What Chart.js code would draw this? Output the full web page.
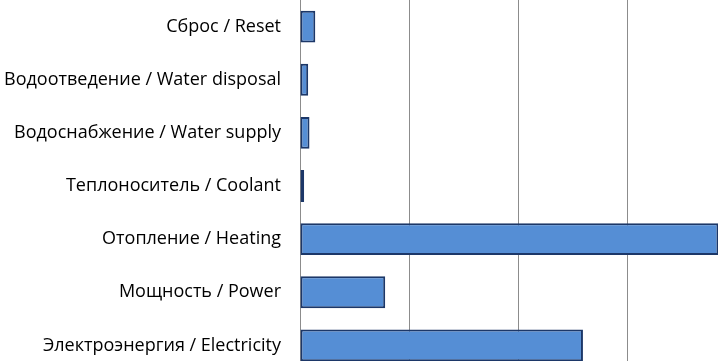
<!DOCTYPE html>
<html lang="ru">
<head>
    <meta charset="UTF-8">
    <title>Расходы</title>
    <script src="https://cdn.jsdelivr.net/npm/chart.js"></script>
    <style>
        body { margin: 0; overflow: hidden; background: #fff; }
        #wrap { width: 718px; height: 361px; overflow: hidden; }
    </style>
</head>
<body>
    <div id="wrap">
        <canvas id="cost-chart" width="737" height="372"></canvas>
    </div>

    <script>
        const categories = [
            'Сброс / Reset',
            'Водоотведение / Water disposal',
            'Водоснабжение / Water supply',
            'Теплоноситель / Coolant',
            'Отопление / Heating',
            'Мощность / Power',
            'Электроэнергия / Electricity'
        ];
        const values = [140, 75, 87, 38, 3830, 780, 2590];
        const xTicks = [0, 1000, 2000, 3000, 4000];

        const ctx = document.getElementById('cost-chart').getContext('2d');
        new Chart(ctx, {
            type: 'bar',
            data: {
                labels: categories,
                datasets: [{
                    data: values,
                    backgroundColor: '#558ed5',
                    borderColor: '#1c3768',
                    borderWidth: 2,
                    borderSkipped: false,
                    barPercentage: 0.6,
                    categoryPercentage: 1
                }]
            },
            options: {
                indexAxis: 'y',
                responsive: false,
                animation: false,
                layout: { padding: 0 },
                plugins: {
                    legend: { display: false },
                    tooltip: { enabled: false }
                },
                scales: {
                    x: {
                        min: xTicks[0],
                        max: xTicks[xTicks.length - 1],
                        afterBuildTicks: scale => {
                            scale.ticks = xTicks.map(v => ({ value: v }));
                        },
                        afterFit: scale => {
                            scale.height = 0;
                            scale.paddingLeft = 0;
                            scale.paddingRight = 0;
                        },
                        ticks: { display: false },
                        grid: { color: '#8c8c8c', lineWidth: 1, drawTicks: false },
                        border: { display: false }
                    },
                    y: {
                        afterFit: scale => {
                            scale.width = 300;
                            scale.paddingTop = 0;
                            scale.paddingBottom = 0;
                        },
                        ticks: {
                            color: '#000',
                            padding: 19,
                            font: { family: 'Open Sans', size: 18 }
                        },
                        grid: { display: false, drawTicks: false },
                        border: { color: '#8c8c8c', width: 1 }
                    }
                }
            }
        });
    </script>
</body>
</html>
